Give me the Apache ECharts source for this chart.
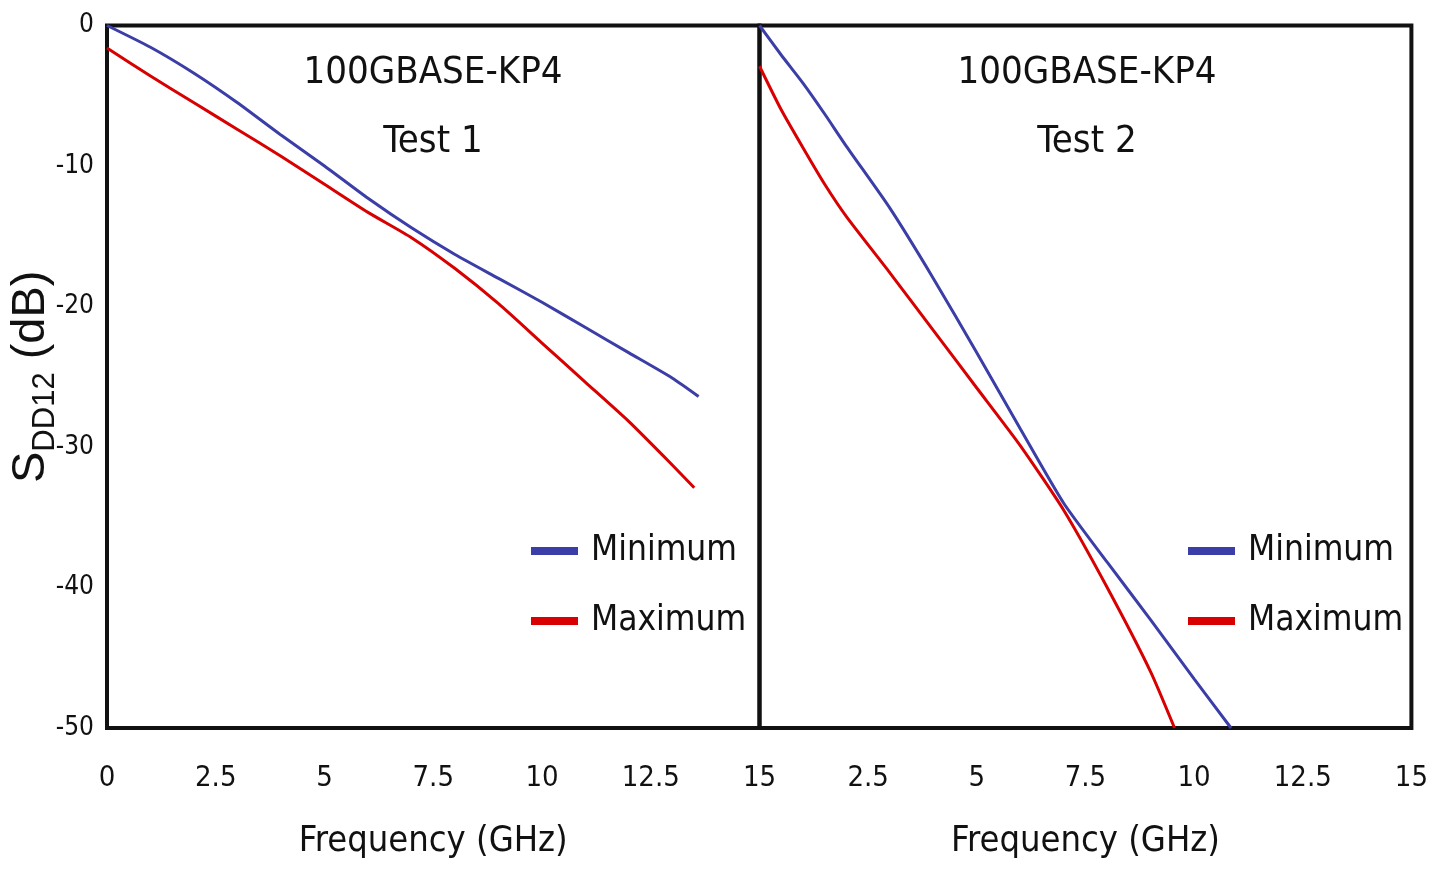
<!DOCTYPE html>
<html>
<head>
<meta charset="utf-8">
<script src="https://cdn.jsdelivr.net/npm/echarts@6/dist/echarts.min.js"></script>
<style>
html,body{margin:0;padding:0;background:#ffffff;}
#chart{width:1431px;height:873px;}
</style>
</head>
<body>
<div id="chart"></div>
<script>
// ---- tick labels / categories ----
const xTicks = [0, 2.5, 5, 7.5, 10, 12.5, 15];
const yTicks = [0, -10, -20, -30, -40, -50];
const seriesNames = ['Minimum', 'Maximum'];
const panelTitles = ['100GBASE-KP4\nTest 1', '100GBASE-KP4\nTest 2'];

// ---- Test 1 (left panel) ----
const test1MinFreq = [0, 1, 2, 3, 4, 5, 6, 7, 8, 9, 10, 11, 12, 13, 13.6];
const test1MinDb   = [0, -1.55, -3.4, -5.5, -7.8, -10.0, -12.3, -14.4, -16.3, -18.0, -19.7, -21.5, -23.3, -25.1, -26.4];
const test1MaxFreq = [0, 1, 2, 3, 4, 5, 6, 7, 8, 9, 10, 11, 12, 13, 13.5];
const test1MaxDb   = [-1.6, -3.6, -5.5, -7.4, -9.3, -11.3, -13.3, -15.1, -17.3, -19.8, -22.6, -25.4, -28.2, -31.3, -32.9];

// ---- Test 2 (right panel) ----
const test2MinFreq = [0, 0.5, 1, 1.5, 2, 3, 4, 5, 6, 7, 8, 9, 10, 10.85];
const test2MinDb   = [0, -2.1, -4.1, -6.3, -8.6, -13.0, -18.0, -23.3, -28.7, -34.0, -38.2, -42.3, -46.5, -50];
const test2MaxFreq = [0, 0.5, 1, 1.5, 2, 3, 4, 5, 6, 7, 8, 9, 9.55];
const test2MaxDb   = [-2.9, -6.0, -8.7, -11.3, -13.6, -17.6, -21.7, -25.8, -29.9, -34.5, -40.0, -46.0, -50];

const BLUE = '#3c3ea8';
const RED = '#d80000';
const NARROW = '"DejaVu Sans Condensed", "Liberation Sans Narrow", "Liberation Sans", sans-serif';
const SANS = '"Liberation Sans", Arial, sans-serif';

function pairs(xs, ys) { return xs.map((x, i) => [x, ys[i]]); }

const xMin = xTicks[0], xMax = xTicks[xTicks.length - 1], xStep = xTicks[1] - xTicks[0];
const yMax = yTicks[0], yMin = yTicks[yTicks.length - 1], yStep = yTicks[0] - yTicks[1];

const gridBase = { top: 25.5, height: 702.5, width: 652.5, show: true, borderColor: '#111', borderWidth: 4, backgroundColor: 'transparent' };

function xAxis(idx, showMin) {
  return {
    type: 'value', gridIndex: idx, min: xMin, max: xMax, interval: xStep,
    axisLine: { show: false }, axisTick: { show: false }, splitLine: { show: false },
    axisLabel: { show: true, showMinLabel: showMin, fontSize: 29, fontFamily: NARROW, color: '#111', margin: 36 },
    name: 'Frequency (GHz)', nameLocation: 'middle', nameGap: 96, nameMoveOverlap: false,
    nameTextStyle: { fontSize: 36, fontFamily: NARROW, color: '#111' }
  };
}
function yAxis(idx, showLabels) {
  return {
    type: 'value', gridIndex: idx, min: yMin, max: yMax, interval: yStep,
    axisLine: { show: false }, axisTick: { show: false }, splitLine: { show: false },
    axisLabel: { show: showLabels, fontSize: 26, fontFamily: NARROW, color: '#111', margin: 13 },
    name: showLabels ? '{s|S}{sub|DD12}{s| (dB)}' : '', nameLocation: 'middle', nameRotate: 90, nameGap: 52,
    nameMoveOverlap: false,
    nameTextStyle: {
      color: '#111',
      rich: {
        s: { fontSize: 47, lineHeight: 47, fontFamily: SANS, verticalAlign: 'top', color: '#111' },
        sub: { fontSize: 31, lineHeight: 31, fontFamily: SANS, verticalAlign: 'top', padding: [22, 0, 0, 0], color: '#111' }
      }
    }
  };
}
function line(name, data, color, idx) {
  return {
    type: 'line', name: name, xAxisIndex: idx, yAxisIndex: idx, data: data,
    smooth: 0.2, showSymbol: false, symbol: 'none', clip: true,
    lineStyle: { color: color, width: 3 }, itemStyle: { color: color }
  };
}
function legend(left) {
  return {
    orient: 'vertical', left: left, top: 526, padding: 0, itemGap: 20,
    icon: 'rect', itemWidth: 47, itemHeight: 8, data: seriesNames,
    textStyle: { fontSize: 35, lineHeight: 50, fontFamily: NARROW, color: '#111', padding: [0, 0, 0, 8] }
  };
}
function title(centerX, text) {
  return {
    text: text, left: centerX, top: 39, textAlign: 'center', padding: 0,
    textStyle: { fontSize: 38, lineHeight: 69, fontWeight: 'normal', fontFamily: NARROW, color: '#111' }
  };
}

const chart = echarts.init(document.getElementById('chart'), null, { renderer: 'canvas' });
chart.setOption({
  backgroundColor: '#ffffff',
  animation: false,
  title: [title(433, panelTitles[0]), title(1087, panelTitles[1])],
  legend: [legend(531), legend(1188)],
  grid: [
    Object.assign({}, gridBase, { left: 107 }),
    Object.assign({}, gridBase, { left: 759.5 })
  ],
  xAxis: [xAxis(0, true), xAxis(1, false)],
  yAxis: [yAxis(0, true), yAxis(1, false)],
  series: [
    line(seriesNames[0], pairs(test1MinFreq, test1MinDb), BLUE, 0),
    line(seriesNames[1], pairs(test1MaxFreq, test1MaxDb), RED, 0),
    line(seriesNames[0], pairs(test2MinFreq, test2MinDb), BLUE, 1),
    line(seriesNames[1], pairs(test2MaxFreq, test2MaxDb), RED, 1)
  ]
});
</script>
</body>
</html>
